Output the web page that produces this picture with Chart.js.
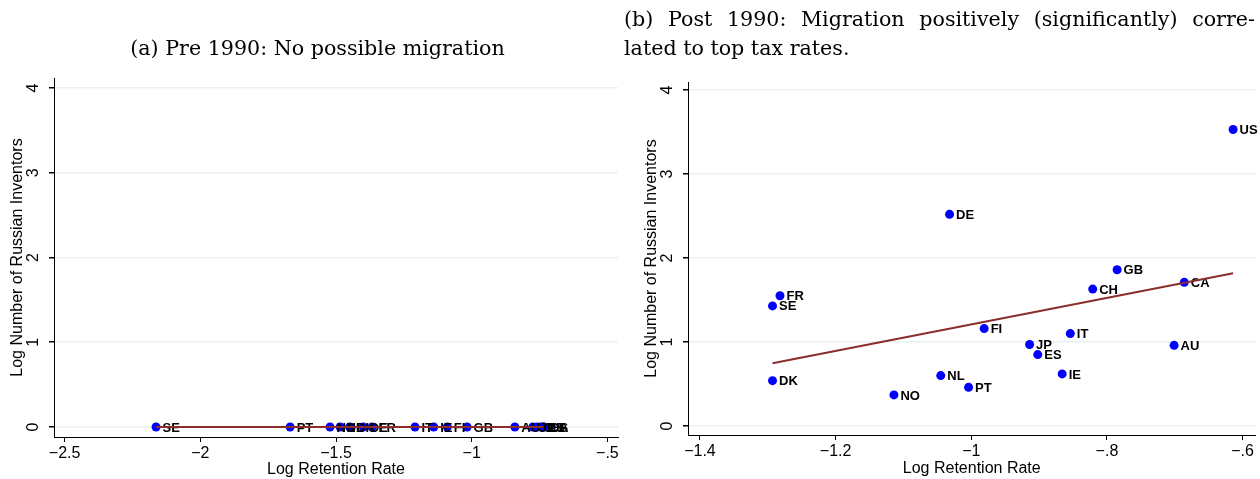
<!DOCTYPE html>
<html>
<head>
<meta charset="utf-8">
<script src="https://cdn.jsdelivr.net/npm/chart.js@4.4.1/dist/chart.umd.min.js"></script>
<style>
  body { margin: 0; width: 1260px; height: 479px; background: #fff; position: relative; overflow: hidden; }
  .panel { position: absolute; top: 0; height: 479px; }
  .title { position: absolute; font-family: "DejaVu Serif", "Liberation Serif", serif; font-size: 20px; line-height: 29px; color: #000; white-space: nowrap; z-index: 2; }
  #titleA { left: 0; width: 635px; top: 34px; text-align: center; }
  #titleB1 { left: 624px; width: 631px; top: 5px; text-align: justify; text-align-last: justify; }
  #titleB2 { left: 624px; top: 34px; }
</style>
</head>
<body>
<div class="title" id="titleA"><span id="titleAText">(a) Pre 1990: No possible migration</span></div>
<div class="title" id="titleB1">(b) Post 1990: Migration positively (significantly) corre-</div>
<div class="title" id="titleB2"><span id="titleB2Text">lated to top tax rates.</span></div>
<div class="panel" style="left:0; width:625px;"><canvas id="pre" width="625" height="479"></canvas></div>
<div class="panel" style="left:630px; width:630px;"><canvas id="post" width="630" height="479"></canvas></div>
<script>
// pre 1990 panel
const preCountries = ['SE', 'PT', 'NO', 'NL', 'DK', 'DE', 'FR', 'IT', 'IE', 'FI', 'GB', 'AU', 'JP', 'CH', 'ES', 'CA', 'US'];
const preRetention = [-2.163, -1.669, -1.522, -1.485, -1.45, -1.40, -1.367, -1.209, -1.14, -1.09, -1.017, -0.841, -0.775, -0.76, -0.745, -0.737, -0.735];
const preInventors = [0, 0, 0, 0, 0, 0, 0, 0, 0, 0, 0, 0, 0, 0, 0, 0, 0];
const preFitX = [-2.163, -0.735];
const preFitY = [0, 0];

// post 1990 panel
const postCountries = ['US', 'DE', 'GB', 'CA', 'CH', 'FR', 'SE', 'FI', 'IT', 'JP', 'AU', 'ES', 'IE', 'NL', 'PT', 'DK', 'NO'];
const postRetention = [-0.614, -1.032, -0.785, -0.686, -0.821, -1.282, -1.293, -0.981, -0.854, -0.914, -0.701, -0.902, -0.866, -1.045, -1.004, -1.293, -1.114];
const postInventors = [3.53, 2.52, 1.86, 1.71, 1.63, 1.55, 1.43, 1.16, 1.10, 0.97, 0.96, 0.85, 0.62, 0.60, 0.46, 0.54, 0.37];
const postFitX = [-1.293, -0.614];
const postFitY = [0.746, 1.818];

// ticks
const yTicks = [0, 1, 2, 3, 4];
const yTickLabels = ['0', '1', '2', '3', '4'];
const preXTicks = [-2.5, -2, -1.5, -1, -0.5];
const preXTickLabels = ['\u22122.5', '\u22122', '\u22121.5', '\u22121', '\u2212.5'];
const postXTicks = [-1.4, -1.2, -1, -0.8, -0.6];
const postXTickLabels = ['\u22121.4', '\u22121.2', '\u22121', '\u2212.8', '\u2212.6'];

const DOT = '#0000ff';
const FIT = '#8c2d2d';
const GRID = '#eaf1f2';
const SANS = '"Liberation Sans", Arial, sans-serif';

// size the serif titles to the widths they have in the figure
const aw = document.getElementById('titleAText').getBoundingClientRect().width;
const bw = document.getElementById('titleB2Text').getBoundingClientRect().width;
const fs = 20 * (361 / aw + 234 / bw) / 2;
document.querySelectorAll('.title').forEach(el => { el.style.fontSize = fs + 'px'; });

const countryLabels = {
    id: 'countryLabels',
    afterDatasetDraw(chart, args, opts) {
        if (args.index !== 1) return;
        const ctx = chart.ctx;
        ctx.save();
        ctx.font = 'bold 13px ' + SANS;
        ctx.fillStyle = '#000';
        ctx.textAlign = 'left';
        ctx.textBaseline = 'middle';
        args.meta.data.forEach((pt, i) => ctx.fillText(opts.names[i], pt.x + 6.5, pt.y + 1));
        ctx.restore();
    }
};

const yTickText = {
    id: 'yTickText',
    afterDraw(chart) {
        const s = chart.scales.y, ctx = chart.ctx;
        ctx.save();
        ctx.font = '16px ' + SANS;
        ctx.fillStyle = '#000';
        ctx.textAlign = 'center';
        ctx.textBaseline = 'middle';
        yTicks.forEach((v, i) => {
            ctx.save();
            ctx.translate(s.right - 20, s.getPixelForValue(v));
            ctx.rotate(-Math.PI / 2);
            ctx.fillText(yTickLabels[i], 0, 0);
            ctx.restore();
        });
        ctx.restore();
    }
};

const makePanel = (id, c) => {
    new Chart(document.getElementById(id), {
        type: 'scatter',
        data: {
            datasets: [
                {
                    type: 'line',
                    data: c.fitX.map((x, i) => ({ x: x, y: c.fitY[i] })),
                    borderColor: FIT,
                    borderWidth: 2,
                    pointRadius: 0,
                    fill: false
                },
                {
                    data: c.x.map((x, i) => ({ x: x, y: c.y[i] })),
                    backgroundColor: DOT,
                    borderWidth: 0,
                    pointRadius: 4.5,
                    pointHoverRadius: 4.5
                }
            ]
        },
        options: {
            responsive: false,
            animation: false,
            events: [],
            layout: { padding: c.pad },
            plugins: {
                legend: { display: false },
                tooltip: { enabled: false },
                countryLabels: { names: c.names }
            },
            scales: {
                x: {
                    type: 'linear',
                    min: c.xmin,
                    max: c.xmax,
                    afterBuildTicks: s => { s.ticks = c.xTicks.map(v => ({ value: v })); },
                    afterFit: s => { s.height = c.xh; },
                    ticks: {
                        callback: (v, i) => c.xLabels[i],
                        font: { family: SANS, size: 16 },
                        color: '#000',
                        padding: 2,
                        maxRotation: 0,
                        autoSkip: false
                    },
                    grid: { drawOnChartArea: false, tickLength: 5, tickColor: '#000' },
                    border: { color: '#000', width: 1 },
                    title: {
                        display: true,
                        text: 'Log Retention Rate',
                        font: { family: SANS, size: 16 },
                        color: '#000',
                        padding: { top: 0, bottom: c.xtPad }
                    }
                },
                y: {
                    type: 'linear',
                    min: c.ymin,
                    max: c.ymax,
                    afterBuildTicks: s => { s.ticks = yTicks.map(v => ({ value: v })); },
                    afterFit: s => { s.width = c.yw; },
                    ticks: { display: false },
                    grid: { color: GRID, lineWidth: 1.5, tickLength: 5, tickColor: '#000' },
                    border: { color: '#000', width: 1 },
                    title: {
                        display: true,
                        text: 'Log Number of Russian Inventors',
                        font: { family: SANS, size: 16 },
                        color: '#000',
                        padding: { top: c.ytPad, bottom: 0 }
                    }
                }
            }
        },
        plugins: [countryLabels, yTickText]
    });
};

makePanel('pre', {
    names: preCountries, x: preRetention, y: preInventors,
    fitX: preFitX, fitY: preFitY,
    xTicks: preXTicks, xLabels: preXTickLabels,
    xmin: -2.539, xmax: -0.461, ymin: -0.118, ymax: 4.118,
    pad: { top: 78, right: 7, left: 0, bottom: 0 },
    yw: 54, xh: 42, ytPad: 8, xtPad: 0
});

makePanel('post', {
    names: postCountries, x: postRetention, y: postInventors,
    fitX: postFitX, fitY: postFitY,
    xTicks: postXTicks, xLabels: postXTickLabels,
    xmin: -1.4176, xmax: -0.581, ymin: -0.107, ymax: 4.095,
    pad: { top: 82, right: 4, left: 0, bottom: 0 },
    yw: 58, xh: 44, ytPad: 12, xtPad: 1
});
</script>
</body>
</html>
